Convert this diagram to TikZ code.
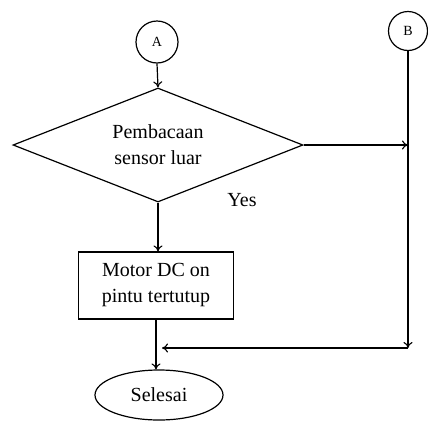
\documentclass[tikz,border=0pt]{standalone}
\usepackage{fontspec}
\setmainfont{Liberation Serif}
\usetikzlibrary{shapes.geometric,arrows.meta}
\begin{document}
\begin{tikzpicture}[x=1pt,y=-1pt,
  every node/.style={font=\fontsize{20}{26}\selectfont, align=center},
  conn/.style={line width=1.2pt},
  arr/.style={conn,-{To[length=6pt,width=9pt,line width=1.1pt]}},
  circ/.style={draw,circle,line width=1.2pt,minimum size=42pt,inner sep=0pt,font=\fontsize{14}{16}\selectfont},
  dec/.style={draw,diamond,line width=1.2pt,shape aspect=2.5,minimum width=290pt,minimum height=114pt,inner sep=0pt},
  proc/.style={draw,rectangle,line width=1.2pt,minimum width=155pt,minimum height=67pt,inner sep=0pt},
  term/.style={draw,ellipse,line width=1.2pt,minimum width=128pt,minimum height=50pt,inner sep=0pt}]
\useasboundingbox (0,0) rectangle (428,421);
\node[circ] (A) at (157,42) {A};
\node[circ,minimum size=39pt] (B) at (408,31) {B};
\node[dec] (D) at (158,145) {Pembacaan\\sensor luar};
\node (yes) at (242,200) {Yes};
\node[proc] (R) at (156,285.5) {Motor DC on\\pintu tertutup};
\node[term] (E) at (159,395) {Selesai};
\coordinate (jr) at (408,148);
\coordinate (jb) at (408,348);
\coordinate (jl) at (162,348);
\draw[arr] (A.south) -- (D.north);
\draw[arr] (D.east) -- (D.east -| jr);
\draw[arr] (B.south) -- (jb);
\draw[arr] (jb) -- (jl);
\draw[arr] (D.south) -- (D.south |- R.north);
\draw[arr] (R.south) -- (R.south |- E.north);
\end{tikzpicture}
\end{document}
